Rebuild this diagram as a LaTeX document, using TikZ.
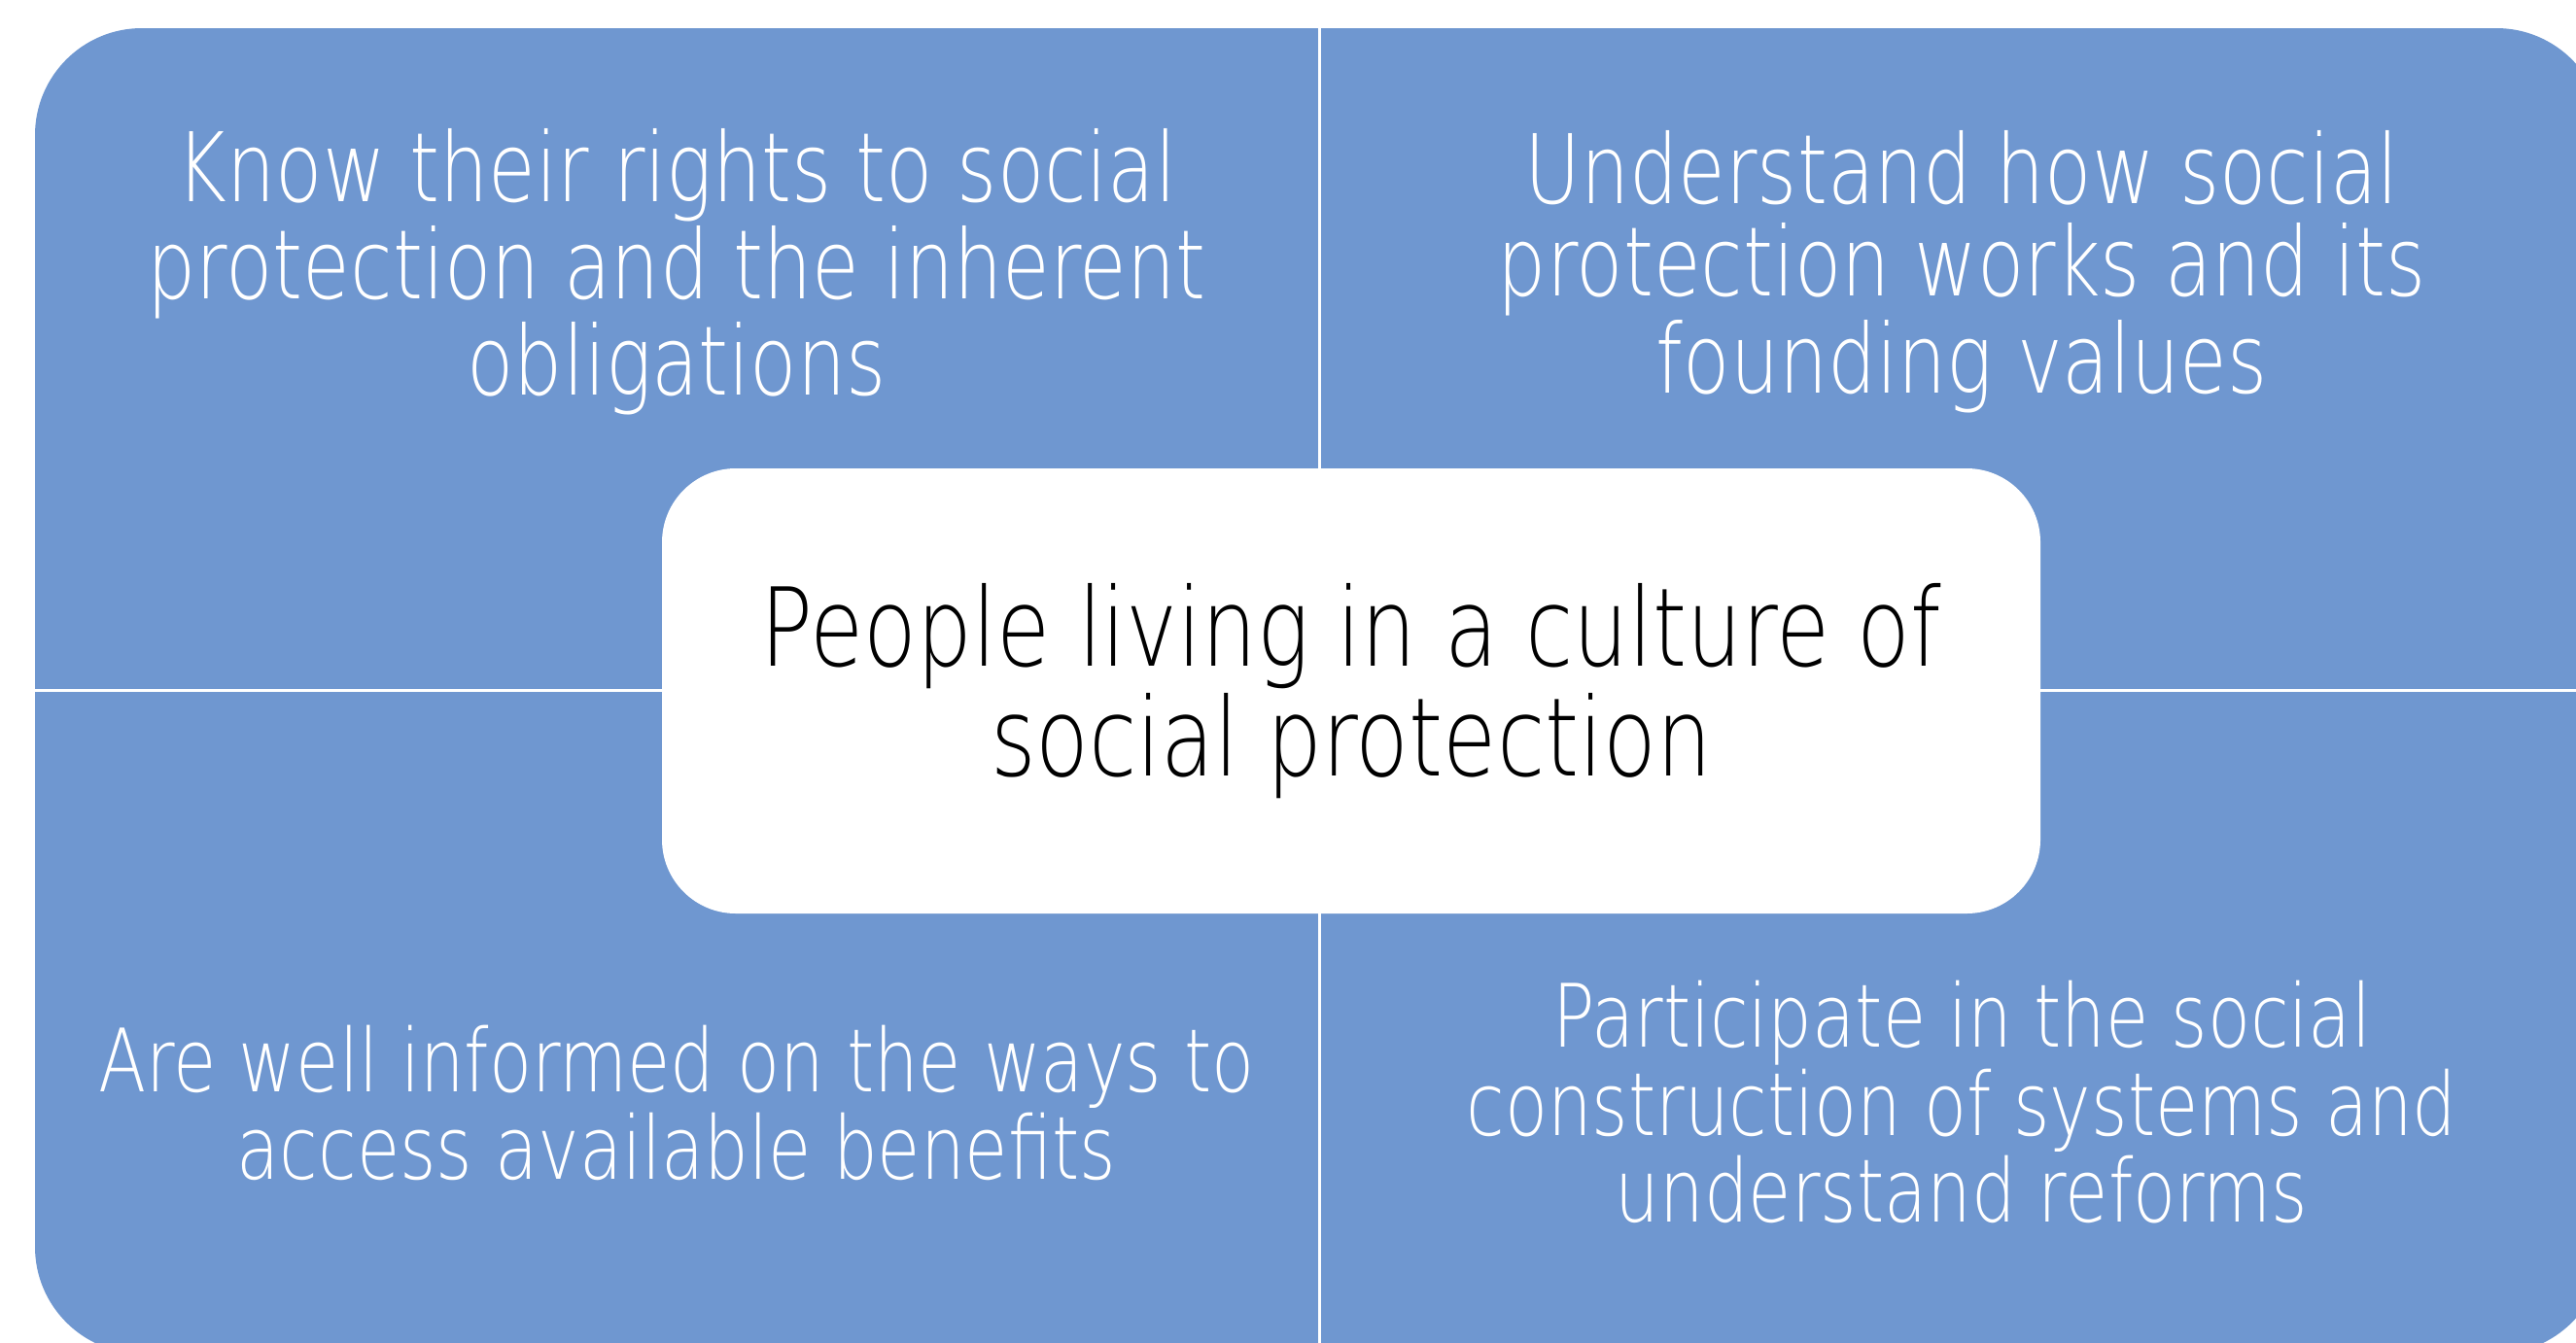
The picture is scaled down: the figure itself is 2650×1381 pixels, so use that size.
\documentclass[tikz,border=0pt]{standalone}
\usepackage{fontspec}
\setmainfont{DejaVuSans-ExtraLight.ttf}[FakeStretch=0.8]
\usepackage{tikz}
\usepackage{xcolor}
\definecolor{quadblue}{RGB}{111,151,208}
\tikzstyle{quadtext} = [text=white, align=center, inner sep=0pt]
\tikzstyle{bigtext} = [quadtext, font=\fontsize{24.7}{23.75}\selectfont]
\tikzstyle{smalltext} = [quadtext, font=\fontsize{22.5}{21.25}\selectfont]
\tikzstyle{hubbox} = [fill=white, rectangle, rounded corners=19pt, minimum width=354.5pt, minimum height=114.5pt, inner sep=0pt, align=center, font=\fontsize{28}{26.5}\selectfont]
\tikzstyle{divider} = [draw=white, line width=0.75pt]

\begin{document}
\begin{tikzpicture}[x=0.25pt, y=-0.25pt]
\clip (0,0) rectangle (2650,1381);
% four quadrants
\fill[quadblue, rounded corners=27.5pt] (36,29) rectangle (2678,1393);
\draw[divider] (1357,29) -- (1357,1393);
\draw[divider] (36,710) -- (2678,710);
\node[bigtext] (rights) at (696,280) {Know their rights to social\\protection and the inherent\\obligations};
\node[bigtext] (works) at (2018,280) {Understand how social\\protection works and its\\founding values};
\node[smalltext] (access) at (696,1135) {Are well informed on the ways to\\access available benefits};
\node[smalltext] (reforms) at (2018,1134) {Participate in the social\\construction of systems and\\understand reforms};
% centre
\node[hubbox] (culture) at (1390,711) {People living in a culture of\\social protection};
\end{tikzpicture}
\end{document}
